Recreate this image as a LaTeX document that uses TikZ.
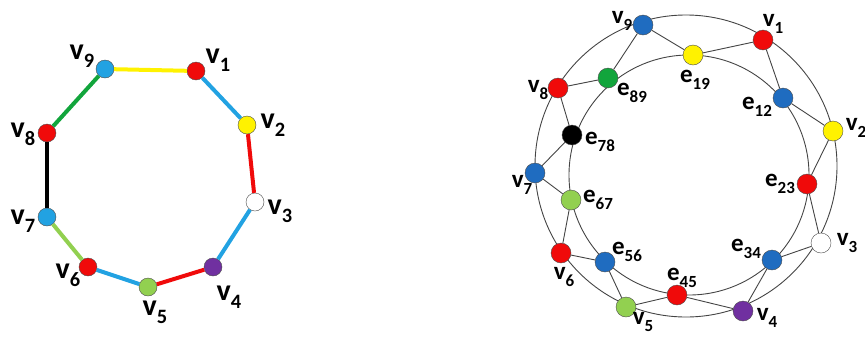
\documentclass[tikz,border=0pt]{standalone}
\usepackage{fontspec}
\setmainfont{Carlito}
\usetikzlibrary{positioning}
\definecolor{cred}{HTML}{F00A0A}
\definecolor{cyel}{HTML}{FFF200}
\definecolor{cpur}{HTML}{7030A0}
\definecolor{clgr}{HTML}{92D050}
\definecolor{cgrn}{HTML}{12A53C}
\definecolor{clbl}{HTML}{22A2E2}
\definecolor{cdbl}{HTML}{1F6CC0}
\definecolor{cline}{HTML}{444444}
\newcommand{\vsub}[2]{#1\raisebox{-0.26em}{\fontsize{0.68em}{0.68em}\selectfont #2}}
\tikzset{
  lvtx/.style={circle, draw=black!70, thin, minimum size=18pt, inner sep=0pt},
  rvtx/.style={circle, draw=black!70, thin, minimum size=20pt, inner sep=0pt},
  ledge/.style={line width=4pt},
  redge/.style={draw=cline, line width=0.9pt},
  llbl/.style={font=\bfseries\fontsize{30}{30}\selectfont, inner sep=0pt},
  rlbl/.style={font=\bfseries\fontsize{25}{25}\selectfont, inner sep=0pt}
}
\begin{document}
\begin{tikzpicture}[x=1pt, y=-1pt]
  \useasboundingbox (0,0) rectangle (865,338);
  % left: the cycle
  \foreach \n/\x/\y/\c in {1/196/71/cred, 2/247/125/cyel, 3/255/202/white,
      4/213/267/cpur, 5/148/287/clgr, 6/88/267/cred, 7/47/217/clbl,
      8/47/133/cred, 9/105/69/clbl}
    \node[lvtx, fill=\c] (l\n) at (\x,\y) {};
  \foreach \a/\b/\c in {9/1/cyel, 1/2/clbl, 2/3/cred, 3/4/clbl, 4/5/cred,
      5/6/clbl, 6/7/clgr, 7/8/black, 8/9/cgrn}
    \draw[ledge, \c] (l\a) -- (l\b);
  \foreach \n/\x/\y in {1/218/60, 2/273/125, 3/280/211, 4/229/297, 5/155/312,
      6/68/275, 7/23/221, 8/23/134, 9/82/56}
    \node[llbl] (tl\n) at (\x,\y) {\vsub{v}{\n}};

  % right: total graph
  \draw[redge] (686,166) circle (151);
  \draw[redge] (689,175) circle (120);
  \foreach \n/\x/\y/\c in {1/763/40/cred, 2/833/131/cyel, 3/821/243/white,
      4/743/311/cpur, 5/626/307/clgr, 6/561/253/cred, 7/535/173/cdbl,
      8/558/88/cred, 9/643/25/cdbl}
    \node[rvtx, fill=\c] (v\n) at (\x,\y) {};
  \foreach \n/\x/\y/\c in {19/693/55/cyel, 12/783/98/cdbl, 23/807/184/cred,
      34/772/260/cdbl, 45/677/295/cred, 56/605/262/cdbl, 67/571/200/clgr,
      78/572/135/black, 89/608/78/cgrn}
    \node[rvtx, fill=\c] (e\n) at (\x,\y) {};
  \foreach \e/\a/\b in {19/1/9, 12/1/2, 23/2/3, 34/3/4, 45/4/5, 56/5/6,
      67/6/7, 78/7/8, 89/8/9}
    \draw[redge] (v\a) -- (e\e) -- (v\b);
  \foreach \n/\x/\y in {1/773/24, 2/856/128, 3/847/243, 4/767/318, 5/643/322,
      6/564/277, 7/522/185, 8/538/90, 9/622/21}
    \node[rlbl] (tv\n) at (\x,\y) {\vsub{v}{\n}};
  \foreach \n/\x/\y in {19/695/80, 12/757/107, 23/780/184, 34/746/249,
      45/682/278, 56/627/252, 67/598/200, 78/600/142, 89/632/93}
    \node[rlbl] (te\n) at (\x,\y) {\vsub{e}{\n}};
\end{tikzpicture}
\end{document}
